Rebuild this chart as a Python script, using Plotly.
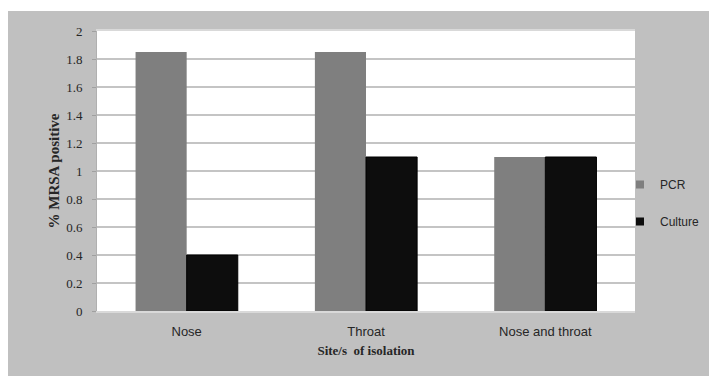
import plotly.graph_objects as go

categories = ["Nose", "Throat", "Nose and throat"]
pcr = [1.85, 1.85, 1.1]
culture = [0.4, 1.1, 1.1]
y_ticks = [0, 0.2, 0.4, 0.6, 0.8, 1, 1.2, 1.4, 1.6, 1.8, 2]
y_tick_text = ["0", "0.2", "0.4", "0.6", "0.8", "1", "1.2", "1.4", "1.6", "1.8", "2"]

PCR_COLOR = "#7f7f7f"
CUL_COLOR = "#0d0d0d"
PANEL = "#c0c0c0"

fig = go.Figure()
fig.add_trace(go.Bar(x=categories, y=pcr, name="PCR", marker=dict(color=PCR_COLOR, line=dict(width=0)),
                     showlegend=False))
fig.add_trace(go.Bar(x=categories, y=culture, name="Culture",
                     marker=dict(color=CUL_COLOR, line=dict(width=1, color="#000000")),
                     showlegend=False))
# legend entries with small square keys
fig.add_trace(go.Scatter(x=[None], y=[None], mode="markers", name="PCR", legendgroup="a",
                         marker=dict(symbol="square", size=8, color=PCR_COLOR)))
fig.add_trace(go.Scatter(x=[None], y=[None], mode="markers", name="Culture", legendgroup="b",
                         marker=dict(symbol="square", size=8, color=CUL_COLOR)))

# page body adds an 8px offset; figure fills the rest of the window
W, H = 709, 368
L, R, T, B = 89, 82, 23, 65
pw, ph = W - L - R, H - T - B

def px_x(p):
    return (p - L) / pw

def px_y(p):
    return (H - B - p) / ph

fig.update_layout(
    width=W, height=H,
    margin=dict(l=L, r=R, t=T, b=B),
    paper_bgcolor=PANEL,
    plot_bgcolor="white",
    barmode="group",
    bargap=0.43,
    bargroupgap=0,
    font=dict(family="Liberation Serif", size=13, color="#262626"),
    showlegend=True,
    legend=dict(x=px_x(612), y=px_y(162), xanchor="left", yanchor="top",
                bgcolor="rgba(0,0,0,0)", traceorder="grouped", tracegroupgap=18,
                font=dict(family="Liberation Sans", size=12, color="#262626"),
                itemwidth=30),
    shapes=[
        dict(type="rect", xref="paper", yref="paper", x0=px_x(0), x1=px_x(W), y0=px_y(3), y1=px_y(0),
             fillcolor="white", line=dict(width=0), layer="below"),
    ],
)
fig.update_xaxes(
    tickfont=dict(family="Liberation Sans", size=13, color="#262626"),
    showline=True, linecolor="#d9d9d9", linewidth=2, mirror=True,
    ticks="", showgrid=False, ticklabelstandoff=7, automargin=False,
    title=dict(text="<b>Site/s  of isolation</b>", font=dict(family="Liberation Serif", size=13, color="#262626"), standoff=8),
)
fig.update_yaxes(
    range=[0, 2], tickvals=y_ticks, ticktext=y_tick_text,
    tickfont=dict(family="Liberation Serif", size=13, color="#262626"),
    showgrid=True, gridcolor="#c4c4c4", gridwidth=2,
    showline=True, linecolor="#b0b0b0", linewidth=1, mirror=False,
    ticks="outside", ticklen=4, tickcolor="#a0a0a0", ticklabelstandoff=7, automargin=False,
    zeroline=False,
    title=dict(text="<b>% MRSA positive</b>", font=dict(family="Liberation Serif", size=15, color="#262626"), standoff=2),
)

fig.write_html("out.html")
